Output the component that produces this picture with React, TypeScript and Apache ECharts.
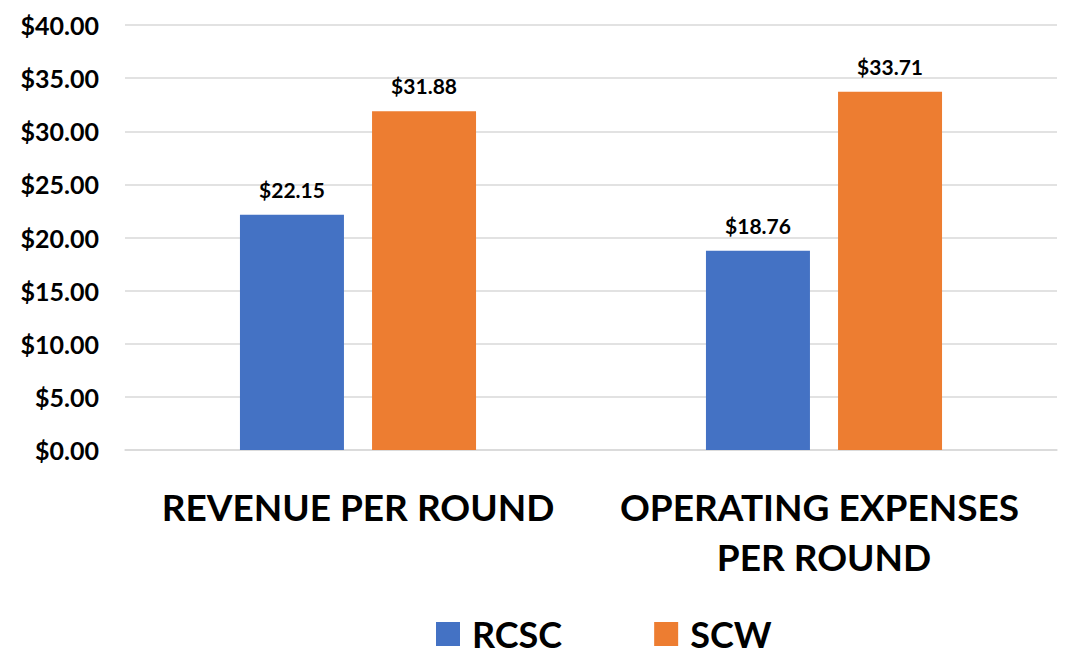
import React, { useEffect, useRef } from "react";
import * as echarts from "echarts";

const categories = ["REVENUE PER ROUND", "OPERATING EXPENSES PER ROUND"];
const seriesNames = ["RCSC", "SCW"];
const rcscValues = [22.15, 18.76];
const scwValues = [31.88, 33.71];
const colors = ["#4472C4", "#ED7D31"];

const FONT = "Lato, 'Open Sans', sans-serif";

export default function App() {
  const ref = useRef<HTMLDivElement>(null);
  useEffect(() => {
    if (!ref.current) return;
    const chart = echarts.init(ref.current, null, { renderer: "svg" });
    const money = (v: number) => "$" + v.toFixed(2);
    const mkSeries = (name: string, data: number[], color: string) => ({
      name,
      type: "bar",
      data,
      barWidth: 104,
      barGap: "27%",
      itemStyle: { color },
      label: {
        show: true,
        position: "top",
        distance: 15,
        formatter: (p: any) => money(p.value),
        fontFamily: FONT,
        fontWeight: "bold",
        fontSize: 21,
        color: "#000",
      },
    });
    chart.setOption({
      animation: false,
      backgroundColor: "#fff",
      textStyle: { fontFamily: FONT },
      grid: { left: 125, right: 14, top: 25, bottom: 206, containLabel: false },
      legend: {
        data: seriesNames,
        top: 611,
        left: 431,
        itemWidth: 24,
        itemHeight: 24,
        itemGap: 92,
        icon: "rect",
        textStyle: {
          fontFamily: FONT,
          fontWeight: "bold",
          fontSize: 36,
          lineHeight: 30,
          color: "#000",
          padding: [0, 0, 0, 7],
        },
      },
      xAxis: {
        type: "category",
        data: categories,
        axisLine: { show: true, lineStyle: { color: "#D9D9D9", width: 1.5 } },
        axisTick: { show: false },
        axisLabel: {
          margin: 31,
          fontFamily: FONT,
          fontWeight: "bold",
          fontSize: 37,
          color: "#000",
          lineHeight: 50,
          width: 420,
          overflow: "break",
          interval: 0,
        },
      },
      yAxis: {
        type: "value",
        min: 0,
        max: 40,
        interval: 5,
        axisLine: { show: false },
        axisTick: { show: false },
        splitLine: { lineStyle: { color: "#D9D9D9", width: 1.5 } },
        axisLabel: {
          margin: 26,
          formatter: (v: number) => money(v),
          fontFamily: FONT,
          fontWeight: "bold",
          fontSize: 25,
          color: "#000",
        },
      },
      series: [
        mkSeries(seriesNames[0], rcscValues, colors[0]),
        mkSeries(seriesNames[1], scwValues, colors[1]),
      ],
    });
    return () => chart.dispose();
  }, []);
  return (
    <div
      ref={ref}
      style={{ position: "fixed", left: 0, top: 0, width: 1071, height: 656 }}
    />
  );
}
